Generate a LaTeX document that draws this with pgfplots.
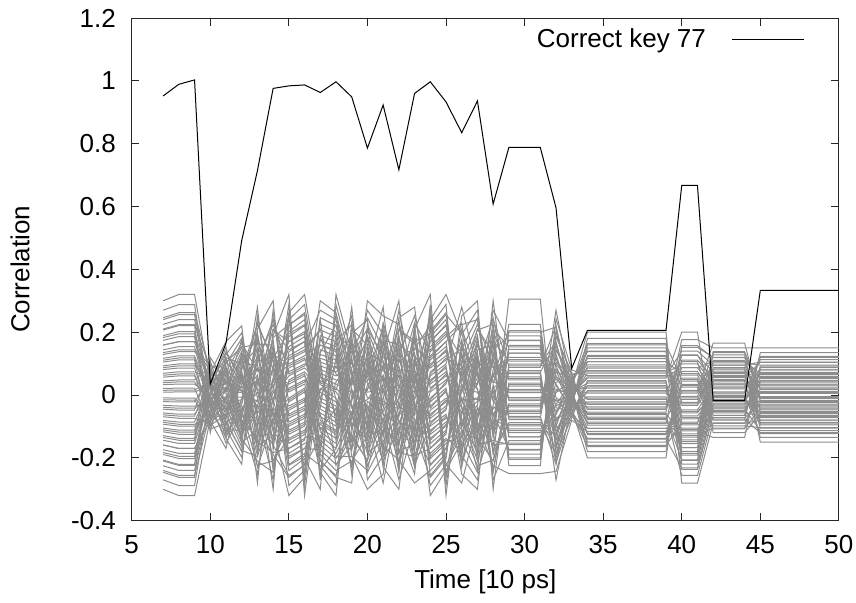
\documentclass[border=0pt]{standalone}
\usepackage{fontspec}
\setmainfont{Liberation Sans}
\usepackage{pgfplots}
\usepackage{pgfplotstable}
\pgfplotsset{compat=1.18}
\definecolor{grayline}{RGB}{140,140,140}
\pgfplotstableread{
t g0 g1 g2 g3 g4 g5 g6 g7 g8 g9 g10 g11 g12 g13 g14 g15 g16 g17 g18 g19 g20 g21 g22 g23 g24 g25 g26 g27 g28 g29 g30 g31 g32 g33 g34 g35 g36 g37 g38 g39
7 -0.300 -0.270 -0.246 -0.225 -0.207 -0.189 -0.174 -0.159 -0.144 -0.129 -0.117 -0.105 -0.093 -0.081 -0.069 -0.057 -0.045 -0.033 -0.021 -0.009 0.009 0.021 0.033 0.045 0.057 0.069 0.081 0.093 0.105 0.117 0.129 0.144 0.159 0.174 0.189 0.207 0.225 0.246 0.270 0.300
8 -0.320 -0.288 -0.262 -0.240 -0.221 -0.202 -0.186 -0.170 -0.154 -0.138 -0.125 -0.112 -0.099 -0.086 -0.074 -0.061 -0.048 -0.035 -0.022 -0.010 0.010 0.022 0.035 0.048 0.061 0.074 0.086 0.099 0.112 0.125 0.138 0.154 0.170 0.186 0.202 0.221 0.240 0.262 0.288 0.320
9 -0.320 -0.288 -0.262 -0.240 -0.221 -0.202 -0.186 -0.170 -0.154 -0.138 -0.125 -0.112 -0.099 -0.086 -0.074 -0.061 -0.048 -0.035 -0.022 -0.010 0.010 0.022 0.035 0.048 0.061 0.074 0.086 0.099 0.112 0.125 0.138 0.154 0.170 0.186 0.202 0.221 0.240 0.262 0.288 0.320
10 -0.076 0.013 0.120 -0.018 0.070 -0.047 0.037 -0.083 0.008 0.108 -0.023 0.064 -0.052 0.032 -0.090 0.004 0.098 -0.028 0.058 -0.058 0.028 -0.098 -0.004 0.090 -0.032 0.052 -0.064 0.023 -0.108 -0.008 0.083 -0.037 0.047 -0.070 0.018 -0.120 -0.013 0.076 -0.042 0.042
11 -0.060 0.153 0.039 -0.053 0.170 0.046 -0.046 -0.170 0.053 -0.039 -0.153 0.060 -0.032 -0.139 0.066 -0.026 -0.128 0.073 -0.019 -0.117 0.082 -0.012 -0.107 0.090 -0.005 -0.099 0.099 0.005 -0.090 0.107 0.012 -0.082 0.117 0.019 -0.073 0.128 0.026 -0.066 0.139 0.032
12 -0.165 -0.068 0.015 0.095 0.220 -0.106 -0.024 0.059 0.152 -0.152 -0.059 0.024 0.106 -0.220 -0.095 -0.015 0.068 0.165 -0.139 -0.051 0.033 0.117 -0.198 -0.086 -0.007 0.077 0.180 -0.128 -0.042 0.042 0.128 -0.180 -0.077 0.007 0.086 0.198 -0.117 -0.033 0.051 0.139
13 -0.031 0.176 -0.098 0.098 -0.176 0.031 0.280 -0.042 0.162 -0.109 0.087 -0.193 0.020 0.252 -0.053 0.148 -0.120 0.076 -0.210 0.008 0.230 -0.064 0.134 -0.134 0.064 -0.230 -0.008 0.210 -0.076 0.120 -0.148 0.053 -0.252 -0.020 0.193 -0.087 0.109 -0.162 0.042 -0.280
14 -0.144 0.021 0.189 -0.159 0.009 0.174 -0.174 -0.009 0.159 -0.189 -0.021 0.144 -0.207 -0.033 0.129 -0.225 -0.045 0.117 -0.246 -0.057 0.105 -0.270 -0.069 0.093 -0.300 -0.081 0.081 0.300 -0.093 0.069 0.270 -0.105 0.057 0.246 -0.117 0.045 0.225 -0.129 0.033 0.207
15 0.022 -0.125 0.320 0.112 -0.035 -0.186 0.221 0.061 -0.086 -0.262 0.154 0.010 -0.138 0.288 0.099 -0.048 -0.202 0.202 0.048 -0.099 -0.288 0.138 -0.010 -0.154 0.262 0.086 -0.061 -0.221 0.186 0.035 -0.112 -0.320 0.125 -0.022 -0.170 0.240 0.074 -0.074 -0.240 0.170
16 0.048 -0.099 -0.288 0.138 -0.010 -0.154 0.262 0.086 -0.061 -0.221 0.186 0.035 -0.112 -0.320 0.125 -0.022 -0.170 0.240 0.074 -0.074 -0.240 0.170 0.022 -0.125 0.320 0.112 -0.035 -0.186 0.221 0.061 -0.086 -0.262 0.154 0.010 -0.138 0.288 0.099 -0.048 -0.202 0.202
17 -0.069 0.021 0.105 0.207 -0.246 -0.129 -0.045 0.045 0.129 0.246 -0.207 -0.105 -0.021 0.069 0.159 0.300 -0.174 -0.081 0.009 0.093 0.189 -0.270 -0.144 -0.057 0.033 0.117 0.225 -0.225 -0.117 -0.033 0.057 0.144 0.270 -0.189 -0.093 -0.009 0.081 0.174 -0.300 -0.159
18 -0.099 -0.010 0.086 0.186 -0.320 -0.170 -0.074 0.022 0.112 0.221 -0.262 -0.138 -0.048 0.048 0.138 0.262 -0.221 -0.112 -0.022 0.074 0.170 0.320 -0.186 -0.086 0.010 0.099 0.202 -0.288 -0.154 -0.061 0.035 0.125 0.240 -0.240 -0.125 -0.035 0.061 0.154 0.288 -0.202
19 0.120 -0.098 0.148 -0.076 0.176 -0.053 0.210 -0.031 0.252 -0.008 -0.280 0.020 -0.230 0.042 -0.193 0.064 -0.162 0.087 -0.134 0.109 -0.109 0.134 -0.087 0.162 -0.064 0.193 -0.042 0.230 -0.020 0.280 0.008 -0.252 0.031 -0.210 0.053 -0.176 0.076 -0.148 0.098 -0.120
20 -0.174 -0.033 0.105 0.300 -0.117 0.021 0.159 -0.225 -0.069 0.069 0.225 -0.159 -0.021 0.117 -0.300 -0.105 0.033 0.174 -0.207 -0.057 0.081 0.246 -0.144 -0.009 0.129 -0.270 -0.093 0.045 0.189 -0.189 -0.045 0.093 0.270 -0.129 0.009 0.144 -0.246 -0.081 0.057 0.207
21 -0.008 -0.087 -0.176 0.252 0.134 0.053 -0.031 -0.109 -0.210 0.210 0.109 0.031 -0.053 -0.134 -0.252 0.176 0.087 0.008 -0.076 -0.162 0.280 0.148 0.064 -0.020 -0.098 -0.193 0.230 0.120 0.042 -0.042 -0.120 -0.230 0.193 0.098 0.020 -0.064 -0.148 -0.280 0.162 0.076
22 0.093 0.129 0.174 0.225 0.300 -0.246 -0.189 -0.144 -0.105 -0.069 -0.033 0.009 0.045 0.081 0.117 0.159 0.207 0.270 -0.270 -0.207 -0.159 -0.117 -0.081 -0.045 -0.009 0.033 0.069 0.105 0.144 0.189 0.246 -0.300 -0.225 -0.174 -0.129 -0.093 -0.057 -0.021 0.021 0.057
23 -0.120 0.252 0.087 -0.042 -0.176 0.176 0.042 -0.087 -0.252 0.120 -0.008 -0.134 0.230 0.076 -0.053 -0.193 0.162 0.031 -0.098 -0.280 0.109 -0.020 -0.148 0.210 0.064 -0.064 -0.210 0.148 0.020 -0.109 0.280 0.098 -0.031 -0.162 0.193 0.053 -0.076 -0.230 0.134 0.008
24 -0.262 0.022 -0.320 -0.010 0.288 -0.035 0.240 -0.061 0.202 -0.086 0.170 -0.112 0.138 -0.138 0.112 -0.170 0.086 -0.202 0.061 -0.240 0.035 -0.288 0.010 0.320 -0.022 0.262 -0.048 0.221 -0.074 0.186 -0.099 0.154 -0.125 0.125 -0.154 0.099 -0.186 0.074 -0.221 0.048
25 -0.202 0.061 -0.240 0.035 -0.288 0.010 0.320 -0.022 0.262 -0.048 0.221 -0.074 0.186 -0.099 0.154 -0.125 0.125 -0.154 0.099 -0.186 0.074 -0.221 0.048 -0.262 0.022 -0.320 -0.010 0.288 -0.035 0.240 -0.061 0.202 -0.086 0.170 -0.112 0.138 -0.138 0.112 -0.170 0.086
26 0.162 0.008 -0.148 0.176 0.020 -0.134 0.193 0.031 -0.120 0.210 0.042 -0.109 0.230 0.053 -0.098 0.252 0.064 -0.087 0.280 0.076 -0.076 -0.280 0.087 -0.064 -0.252 0.098 -0.053 -0.230 0.109 -0.042 -0.210 0.120 -0.031 -0.193 0.134 -0.020 -0.176 0.148 -0.008 -0.162
27 0.057 0.174 -0.246 -0.105 0.009 0.117 0.270 -0.159 -0.045 0.069 0.189 -0.225 -0.093 0.021 0.129 0.300 -0.144 -0.033 0.081 0.207 -0.207 -0.081 0.033 0.144 -0.300 -0.129 -0.021 0.093 0.225 -0.189 -0.069 0.045 0.159 -0.270 -0.117 -0.009 0.105 0.246 -0.174 -0.057
28 -0.057 -0.069 -0.081 -0.093 -0.105 -0.117 -0.129 -0.144 -0.159 -0.174 -0.189 -0.207 -0.225 -0.246 -0.270 -0.300 0.300 0.270 0.246 0.225 0.207 0.189 0.174 0.159 0.144 0.129 0.117 0.105 0.093 0.081 0.069 0.057 0.045 0.033 0.021 0.009 -0.009 -0.021 -0.033 -0.045
29 -0.173 0.078 -0.098 0.145 -0.038 0.305 0.028 -0.158 0.088 -0.088 0.158 -0.028 -0.250 0.038 -0.145 0.098 -0.078 0.173 -0.018 -0.225 0.048 -0.133 0.108 -0.068 0.188 -0.008 -0.205 0.058 -0.120 0.120 -0.058 0.205 0.008 -0.188 0.068 -0.108 0.133 -0.048 0.225 0.018
30 -0.173 0.078 -0.098 0.145 -0.038 0.305 0.028 -0.158 0.088 -0.088 0.158 -0.028 -0.250 0.038 -0.145 0.098 -0.078 0.173 -0.018 -0.225 0.048 -0.133 0.108 -0.068 0.188 -0.008 -0.205 0.058 -0.120 0.120 -0.058 0.205 0.008 -0.188 0.068 -0.108 0.133 -0.048 0.225 0.018
31 -0.173 0.078 -0.098 0.145 -0.038 0.305 0.028 -0.158 0.088 -0.088 0.158 -0.028 -0.250 0.038 -0.145 0.098 -0.078 0.173 -0.018 -0.225 0.048 -0.133 0.108 -0.068 0.188 -0.008 -0.205 0.058 -0.120 0.120 -0.058 0.205 0.008 -0.188 0.068 -0.108 0.133 -0.048 0.225 0.018
32 0.105 -0.270 -0.095 0.030 0.157 -0.186 -0.051 0.073 0.221 -0.130 -0.008 0.116 -0.243 -0.084 0.041 0.170 -0.170 -0.041 0.084 0.243 -0.116 0.008 0.130 -0.221 -0.073 0.051 0.186 -0.157 -0.030 0.095 0.270 -0.105 0.019 0.143 -0.203 -0.062 0.062 0.203 -0.143 -0.019
33 0.060 -0.022 0.034 -0.042 0.015 -0.072 -0.006 0.055 -0.025 0.031 -0.046 0.012 -0.080 -0.009 0.050 -0.028 0.028 -0.050 0.009 0.080 -0.012 0.046 -0.031 0.025 -0.055 0.006 0.072 -0.015 0.042 -0.034 0.022 -0.060 0.002 0.066 -0.018 0.038 -0.038 0.018 -0.066 -0.002
34 -0.078 -0.054 -0.030 -0.006 0.022 0.046 0.070 0.096 0.126 0.164 -0.200 -0.150 -0.116 -0.086 -0.062 -0.038 -0.014 0.014 0.038 0.062 0.086 0.116 0.150 0.200 -0.164 -0.126 -0.096 -0.070 -0.046 -0.022 0.006 0.030 0.054 0.078 0.106 0.138 0.180 -0.180 -0.138 -0.106
39 -0.078 -0.054 -0.030 -0.006 0.022 0.046 0.070 0.096 0.126 0.164 -0.200 -0.150 -0.116 -0.086 -0.062 -0.038 -0.014 0.014 0.038 0.062 0.086 0.116 0.150 0.200 -0.164 -0.126 -0.096 -0.070 -0.046 -0.022 0.006 0.030 0.054 0.078 0.106 0.138 0.180 -0.180 -0.138 -0.106
40 -0.167 0.176 0.054 -0.033 -0.124 -0.237 0.099 0.006 -0.086 -0.179 0.157 0.044 -0.047 -0.134 -0.256 0.087 -0.004 -0.095 -0.191 0.140 0.034 -0.057 -0.143 -0.280 0.075 -0.014 -0.105 -0.206 0.126 0.025 -0.066 -0.155 0.200 0.063 -0.023 -0.114 -0.220 0.111 0.015 -0.076
41 -0.167 0.176 0.054 -0.033 -0.124 -0.237 0.099 0.006 -0.086 -0.179 0.157 0.044 -0.047 -0.134 -0.256 0.087 -0.004 -0.095 -0.191 0.140 0.034 -0.057 -0.143 -0.280 0.075 -0.014 -0.105 -0.206 0.126 0.025 -0.066 -0.155 0.200 0.063 -0.023 -0.114 -0.220 0.111 0.015 -0.076
42 0.050 0.150 -0.038 0.044 0.138 -0.044 0.038 0.128 -0.050 0.032 0.119 -0.057 0.026 0.110 -0.065 0.020 0.102 -0.072 0.010 0.095 -0.080 0.004 0.087 -0.089 -0.002 0.080 -0.098 -0.008 0.074 -0.108 -0.014 0.068 -0.120 -0.020 0.062 -0.135 -0.026 0.056 0.165 -0.032
44 0.050 0.150 -0.038 0.044 0.138 -0.044 0.038 0.128 -0.050 0.032 0.119 -0.057 0.026 0.110 -0.065 0.020 0.102 -0.072 0.010 0.095 -0.080 0.004 0.087 -0.089 -0.002 0.080 -0.098 -0.008 0.074 -0.108 -0.014 0.068 -0.120 -0.020 0.062 -0.135 -0.026 0.056 0.165 -0.032
45 -0.011 0.150 0.005 -0.135 0.017 -0.113 0.029 -0.095 0.041 -0.080 0.053 -0.065 0.065 -0.053 0.080 -0.041 0.095 -0.029 0.113 -0.017 0.135 -0.005 -0.150 0.011 -0.123 0.023 -0.104 0.035 -0.087 0.047 -0.072 0.059 -0.059 0.072 -0.047 0.087 -0.035 0.104 -0.023 0.123
50 -0.011 0.150 0.005 -0.135 0.017 -0.113 0.029 -0.095 0.041 -0.080 0.053 -0.065 0.065 -0.053 0.080 -0.041 0.095 -0.029 0.113 -0.017 0.135 -0.005 -0.150 0.011 -0.123 0.023 -0.104 0.035 -0.087 0.047 -0.072 0.059 -0.059 0.072 -0.047 0.087 -0.035 0.104 -0.023 0.123
}\graydata
\pgfplotstableread{
t h0 h1 h2 h3 h4 h5 h6 h7 h8 h9 h10 h11 h12 h13 h14 h15 h16 h17 h18 h19
7 -0.240 -0.210 -0.183 -0.159 -0.135 -0.111 -0.087 -0.063 -0.039 -0.015 0.015 0.039 0.063 0.087 0.111 0.135 0.159 0.183 0.210 0.240
8 -0.256 -0.224 -0.195 -0.170 -0.144 -0.118 -0.093 -0.067 -0.042 -0.016 0.016 0.042 0.067 0.093 0.118 0.144 0.170 0.195 0.224 0.256
9 -0.256 -0.224 -0.195 -0.170 -0.144 -0.118 -0.093 -0.067 -0.042 -0.016 0.016 0.042 0.067 0.093 0.118 0.144 0.170 0.195 0.224 0.256
10 -0.054 0.073 0.006 -0.064 0.064 -0.006 -0.073 0.054 -0.016 -0.084 0.044 -0.025 -0.096 0.035 -0.035 0.096 0.025 -0.044 0.084 0.016
11 -0.009 0.036 0.077 0.119 -0.119 -0.077 -0.036 0.009 0.049 0.090 0.136 -0.104 -0.063 -0.022 0.022 0.063 0.104 -0.136 -0.090 -0.049
12 -0.134 0.064 -0.099 0.099 -0.064 0.134 -0.029 0.176 0.011 -0.154 0.046 -0.117 0.081 -0.081 0.117 -0.046 0.154 -0.011 -0.176 0.029
13 0.126 -0.171 -0.014 0.148 -0.148 0.014 0.171 -0.126 0.036 0.196 -0.104 0.059 0.224 -0.081 0.081 -0.224 -0.059 0.104 -0.196 -0.036
14 -0.087 0.135 -0.135 0.087 -0.183 0.039 -0.240 -0.015 0.210 -0.063 0.159 -0.111 0.111 -0.159 0.063 -0.210 0.015 0.240 -0.039 0.183
15 0.042 -0.144 0.195 0.016 -0.170 0.170 -0.016 -0.195 0.144 -0.042 -0.224 0.118 -0.067 -0.256 0.093 -0.093 0.256 0.067 -0.118 0.224
16 0.067 -0.118 0.224 0.042 -0.144 0.195 0.016 -0.170 0.170 -0.016 -0.195 0.144 -0.042 -0.224 0.118 -0.067 -0.256 0.093 -0.093 0.256
17 -0.111 -0.039 0.039 0.111 0.183 -0.240 -0.159 -0.087 -0.015 0.063 0.135 0.210 -0.210 -0.135 -0.063 0.015 0.087 0.159 0.240 -0.183
18 -0.042 0.256 0.016 -0.224 0.067 -0.170 0.118 -0.118 0.170 -0.067 0.224 -0.016 -0.256 0.042 -0.195 0.093 -0.144 0.144 -0.093 0.195
19 -0.148 0.014 0.171 -0.126 0.036 0.196 -0.104 0.059 0.224 -0.081 0.081 -0.224 -0.059 0.104 -0.196 -0.036 0.126 -0.171 -0.014 0.148
20 0.111 -0.159 0.063 -0.210 0.015 0.240 -0.039 0.183 -0.087 0.135 -0.135 0.087 -0.183 0.039 -0.240 -0.015 0.210 -0.063 0.159 -0.111
21 -0.059 0.014 0.081 0.148 0.224 -0.171 -0.104 -0.036 0.036 0.104 0.171 -0.224 -0.148 -0.081 -0.014 0.059 0.126 0.196 -0.196 -0.126
22 -0.210 -0.039 0.135 -0.183 -0.015 0.159 -0.159 0.015 0.183 -0.135 0.039 0.210 -0.111 0.063 0.240 -0.087 0.087 -0.240 -0.063 0.111
23 0.014 -0.059 -0.126 -0.196 0.196 0.126 0.059 -0.014 -0.081 -0.148 -0.224 0.171 0.104 0.036 -0.036 -0.104 -0.171 0.224 0.148 0.081
24 0.170 -0.067 0.224 -0.016 -0.256 0.042 -0.195 0.093 -0.144 0.144 -0.093 0.195 -0.042 0.256 0.016 -0.224 0.067 -0.170 0.118 -0.118
25 0.224 -0.016 -0.256 0.042 -0.195 0.093 -0.144 0.144 -0.093 0.195 -0.042 0.256 0.016 -0.224 0.067 -0.170 0.118 -0.118 0.170 -0.067
26 -0.104 -0.036 0.036 0.104 0.171 -0.224 -0.148 -0.081 -0.014 0.059 0.126 0.196 -0.196 -0.126 -0.059 0.014 0.081 0.148 0.224 -0.171
27 0.087 -0.240 -0.063 0.111 -0.210 -0.039 0.135 -0.183 -0.015 0.159 -0.159 0.015 0.183 -0.135 0.039 0.210 -0.111 0.063 0.240 -0.087
28 -0.240 0.183 0.111 0.039 -0.039 -0.111 -0.183 0.240 0.159 0.087 0.015 -0.063 -0.135 -0.210 0.210 0.135 0.063 -0.015 -0.087 -0.159
29 0.033 -0.200 -0.013 0.175 -0.053 0.133 -0.093 0.093 -0.133 0.053 -0.175 0.013 0.200 -0.033 0.153 -0.073 0.113 -0.113 0.073 -0.153
30 0.033 -0.200 -0.013 0.175 -0.053 0.133 -0.093 0.093 -0.133 0.053 -0.175 0.013 0.200 -0.033 0.153 -0.073 0.113 -0.113 0.073 -0.153
31 0.033 -0.200 -0.013 0.175 -0.053 0.133 -0.093 0.093 -0.133 0.053 -0.175 0.013 0.200 -0.033 0.153 -0.073 0.113 -0.113 0.073 -0.153
32 -0.143 0.143 -0.014 -0.165 0.122 -0.035 -0.189 0.100 -0.057 -0.216 0.078 -0.078 0.216 0.057 -0.100 0.189 0.035 -0.122 0.165 0.014
33 0.030 0.049 -0.064 -0.042 -0.023 -0.004 0.017 0.036 0.056 -0.056 -0.036 -0.017 0.004 0.023 0.042 0.064 -0.049 -0.030 -0.010 0.010
34 -0.010 0.106 -0.106 0.010 0.122 -0.090 0.026 0.140 -0.074 0.042 0.160 -0.058 0.058 -0.160 -0.042 0.074 -0.140 -0.026 0.090 -0.122
39 -0.010 0.106 -0.106 0.010 0.122 -0.090 0.026 0.140 -0.074 0.042 0.160 -0.058 0.058 -0.160 -0.042 0.074 -0.140 -0.026 0.090 -0.122
40 -0.148 0.068 -0.110 0.106 -0.071 0.152 -0.028 -0.208 0.010 -0.167 0.049 -0.129 0.087 -0.090 0.128 -0.052 -0.232 -0.009 -0.186 0.030
41 -0.148 0.068 -0.110 0.106 -0.071 0.152 -0.028 -0.208 0.010 -0.167 0.049 -0.129 0.087 -0.090 0.128 -0.052 -0.232 -0.009 -0.186 0.030
42 0.059 0.023 -0.017 -0.053 -0.090 0.120 0.083 0.047 0.007 -0.029 -0.065 -0.105 0.107 0.071 0.035 -0.005 -0.041 -0.077 0.135 0.095
44 0.059 0.023 -0.017 -0.053 -0.090 0.120 0.083 0.047 0.007 -0.029 -0.065 -0.105 0.107 0.071 0.035 -0.005 -0.041 -0.077 0.135 0.095
45 -0.032 0.080 -0.056 0.056 -0.080 0.032 -0.105 0.008 0.120 -0.020 0.092 -0.044 0.068 -0.068 0.044 -0.092 0.020 -0.120 -0.008 0.105
50 -0.032 0.080 -0.056 0.056 -0.080 0.032 -0.105 0.008 0.120 -0.020 0.092 -0.044 0.068 -0.068 0.044 -0.092 0.020 -0.120 -0.008 0.105
}\graydataB

\begin{document}
\begin{tikzpicture}
\begin{axis}[
  scale only axis,
  width=353.6pt, height=251.35pt,
  xmin=5, xmax=50, ymin=-0.4, ymax=1.2,
  xtick={5,10,...,50},
  ytick={-0.4,-0.2,0,0.2,0.4,0.6,0.8,1,1.2},
  tick align=inside,
  major tick length=3.75pt,
  axis line style={black!85, line width=0.5pt},
  every tick/.style={black!85, line width=0.5pt},
  /pgf/number format/assume math mode=true,
  tick label style={font=\fontsize{13}{15}\selectfont},
  yticklabel style={xshift=-4.4pt},
  xticklabel style={yshift=-3.9pt},
  xlabel={Time [10 ps]},
  ylabel={Correlation},
  label style={font=\fontsize{13}{15}\selectfont},
  x label style={at={(axis description cs:0.5,-0.1217)}, anchor=center},
  y label style={at={(axis description cs:-0.1578,0.5)}, anchor=center},
  legend plot pos=right,
  legend image code/.code={\draw[#1] (0pt,0pt) -- (36pt,0pt);},
  legend style={at={(axis description cs:0.952,0.958)}, anchor=east,
    draw=none, fill=none, inner sep=0pt, outer sep=0pt, column sep=13pt,
    font=\fontsize{13}{15}\selectfont, nodes={inner sep=0pt}},
]
\coordinate (sw) at (rel axis cs:0,0);
\pgfplotsinvokeforeach{0,...,39}{
  \addplot[grayline, line width=0.5pt, forget plot] table[x=t, y=g#1] {\graydata};
}
\pgfplotsinvokeforeach{0,...,19}{
  \addplot[grayline, line width=0.5pt, forget plot] table[x=t, y=h#1] {\graydataB};
}
\addplot[black, line width=0.5pt] coordinates {
(7,0.952) (8,0.989) (9,1.003) (10,0.035) (11,0.165) (12,0.492) (13,0.714)
(14,0.976) (15,0.984) (16,0.987) (17,0.963) (18,0.997) (19,0.949) (20,0.786)
(21,0.923) (22,0.717) (23,0.960) (24,0.997) (25,0.933) (26,0.835) (27,0.936)
(28,0.608) (29,0.788) (30,0.788) (31,0.788) (32,0.596) (33,0.085) (34,0.206)
(35,0.206) (36,0.206) (37,0.206) (38,0.206) (39,0.206) (40,0.667) (41,0.667)
(42,-0.018) (43,-0.018) (44,-0.018) (45,0.333) (46,0.333) (47,0.333) (48,0.333)
(49,0.333) (50,0.333)
};
\addlegendentry{Correct key 77}
\end{axis}
\pgfresetboundingbox
\path[use as bounding box] ([shift={(-65.85pt,-40.65pt)}]sw) rectangle ([shift={(362.15pt,260.35pt)}]sw);
\end{tikzpicture}
\end{document}
